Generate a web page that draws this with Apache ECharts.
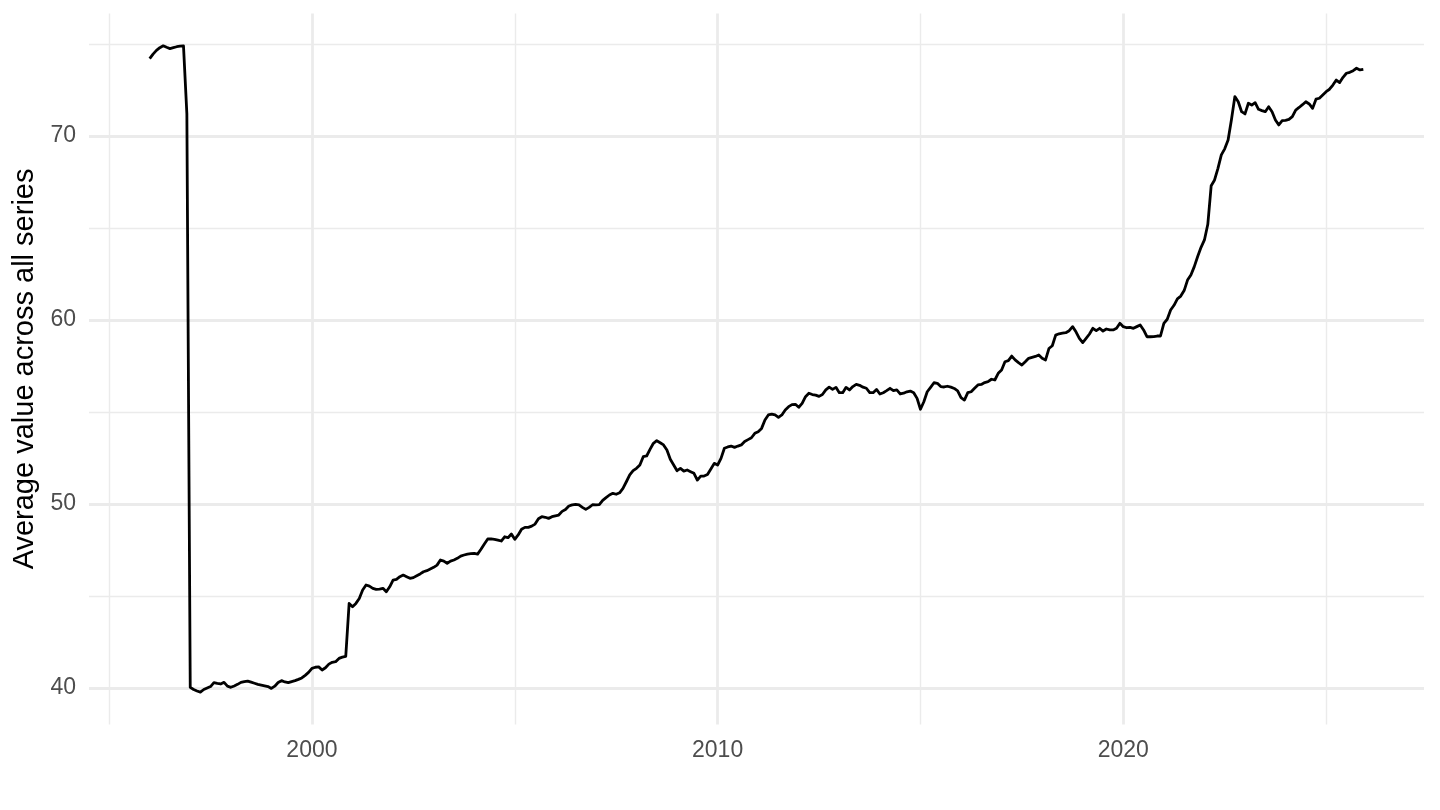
<!DOCTYPE html>
<html>
<head>
<meta charset="utf-8">
<title>Average value across all series</title>
<script src="https://cdn.jsdelivr.net/npm/echarts@6/dist/echarts.min.js"></script>
<style>
  html, body { margin: 0; padding: 0; background: #fff; }
  #chart { width: 1440px; height: 810px; }
</style>
</head>
<body>
<div id="chart"></div>
<script>
// monthly averages, Jan 1996 .. Dec 2025
var startYear = 1996;
var values = [
  74.2, 74.45, 74.65, 74.8, 74.9, 74.82, 74.75, 74.8, 74.85, 74.88, 74.9, 71.2,      // 1996
  40.04, 39.92, 39.84, 39.78, 39.92, 40.0, 40.08, 40.29, 40.25, 40.22, 40.31, 40.1,  // 1997
  40.04, 40.11, 40.2, 40.31, 40.35, 40.38, 40.32, 40.26, 40.2, 40.16, 40.12, 40.08,  // 1998
  39.98, 40.1, 40.3, 40.4, 40.33, 40.29, 40.35, 40.4, 40.47, 40.55, 40.69, 40.85,    // 1999
  41.07, 41.13, 41.15, 40.98, 41.1, 41.3, 41.4, 41.43, 41.61, 41.68, 41.72, 44.6,    // 2000
  44.42, 44.6, 44.87, 45.33, 45.6, 45.54, 45.42, 45.36, 45.38, 45.42, 45.23, 45.5,   // 2001
  45.87, 45.91, 46.05, 46.14, 46.05, 45.96, 46.0, 46.1, 46.2, 46.32, 46.38, 46.47,   // 2002
  46.56, 46.68, 46.96, 46.9, 46.78, 46.9, 46.96, 47.05, 47.17, 47.23, 47.28, 47.3,   // 2003
  47.32, 47.28, 47.54, 47.83, 48.1, 48.1, 48.08, 48.04, 47.99, 48.22, 48.17, 48.37,  // 2004
  48.08, 48.32, 48.63, 48.73, 48.73, 48.8, 48.91, 49.2, 49.31, 49.28, 49.22, 49.31,  // 2005
  49.36, 49.4, 49.6, 49.7, 49.89, 49.95, 49.98, 49.95, 49.82, 49.71, 49.82, 49.96,   // 2006
  49.95, 49.97, 50.2, 50.35, 50.49, 50.58, 50.53, 50.61, 50.85, 51.21, 51.58, 51.81, // 2007
  51.94, 52.12, 52.57, 52.61, 52.97, 53.3, 53.44, 53.33, 53.21, 52.93, 52.43, 52.12, // 2008
  51.81, 51.94, 51.79, 51.85, 51.76, 51.67, 51.3, 51.52, 51.52, 51.6, 51.9, 52.21,   // 2009
  52.12, 52.48, 53.03, 53.1, 53.15, 53.08, 53.15, 53.21, 53.4, 53.5, 53.6, 53.84,    // 2010
  53.93, 54.11, 54.57, 54.84, 54.89, 54.84, 54.71, 54.84, 55.11, 55.29, 55.4, 55.42, // 2011
  55.26, 55.47, 55.83, 56.02, 55.95, 55.92, 55.85, 55.95, 56.2, 56.35, 56.23, 56.34, // 2012
  56.05, 56.05, 56.34, 56.2, 56.38, 56.5, 56.45, 56.35, 56.29, 56.05, 56.05, 56.23,  // 2013
  55.98, 56.05, 56.16, 56.29, 56.16, 56.2, 55.98, 56.02, 56.1, 56.14, 56.05, 55.74,  // 2014
  55.15, 55.56, 56.1, 56.34, 56.59, 56.56, 56.38, 56.36, 56.4, 56.35, 56.28, 56.15,  // 2015
  55.78, 55.65, 56.05, 56.1, 56.29, 56.47, 56.5, 56.6, 56.65, 56.78, 56.74, 57.1,    // 2016
  57.28, 57.73, 57.79, 58.04, 57.83, 57.68, 57.55, 57.73, 57.92, 57.97, 58.02, 58.1, // 2017
  57.92, 57.83, 58.45, 58.6, 59.18, 59.25, 59.29, 59.31, 59.42, 59.64, 59.36, 59.0,  // 2018
  58.77, 59.0, 59.24, 59.55, 59.42, 59.55, 59.4, 59.51, 59.46, 59.46, 59.55, 59.82,  // 2019
  59.64, 59.58, 59.6, 59.55, 59.64, 59.73, 59.46, 59.09, 59.09, 59.1, 59.13, 59.13,  // 2020
  59.82, 60.04, 60.54, 60.8, 61.15, 61.3, 61.6, 62.17, 62.45, 62.9, 63.45, 63.95,    // 2021
  64.35, 65.2, 67.3, 67.61, 68.24, 68.97, 69.3, 69.78, 70.9, 72.14, 71.86, 71.32,    // 2022
  71.2, 71.78, 71.68, 71.81, 71.45, 71.38, 71.32, 71.59, 71.32, 70.87, 70.6, 70.83,  // 2023
  70.85, 70.9, 71.05, 71.41, 71.55, 71.7, 71.86, 71.74, 71.5, 72.0, 72.05, 72.23,    // 2024
  72.41, 72.54, 72.77, 73.04, 72.9, 73.19, 73.41, 73.46, 73.55, 73.68, 73.59, 73.62  // 2025
];
var xTicks = [2000, 2010, 2020];
var xMinorTicks = [1995, 2005, 2015, 2025];
var yTicks = [40, 50, 60, 70];
var yMinorTicks = [45, 55, 65, 75];

var points = values.map(function (v, i) {
  return [startYear + i / 12, v];
});

// ggplot style 5% expansion of the data range
function expand(lo, hi) {
  var pad = (hi - lo) * 0.05;
  return [lo - pad, hi + pad];
}
var xr = expand(points[0][0], points[points.length - 1][0]);
var yr = expand(Math.min.apply(null, values), Math.max.apply(null, values));

var grid = '#EBEBEB';
var font = 'Liberation Sans, Arial, Helvetica, sans-serif';

var chart = echarts.init(document.getElementById('chart'));
chart.setOption({
  animation: false,
  backgroundColor: '#ffffff',
  grid: { left: 89, right: 16, top: 13.5, bottom: 85.6 },
  xAxis: [
    {
      type: 'value', min: xr[0], max: xr[1],
      axisLine: { show: false },
      axisTick: { show: false, customValues: xTicks },
      axisLabel: {
        customValues: xTicks, color: '#4D4D4D', fontSize: 23,
        fontFamily: font, margin: 15,
        formatter: function (v) { return String(v); }
      },
      splitLine: { show: true, lineStyle: { color: grid, width: 2.8 } }
    },
    {
      type: 'value', min: xr[0], max: xr[1], position: 'bottom',
      axisLine: { show: false },
      axisTick: { show: false, customValues: xMinorTicks },
      axisLabel: { show: false, customValues: xMinorTicks },
      splitLine: { show: true, lineStyle: { color: grid, width: 1.4 } }
    }
  ],
  yAxis: [
    {
      type: 'value', min: yr[0], max: yr[1],
      name: 'Average value across all series',
      nameLocation: 'middle', nameGap: 50,
      nameTextStyle: { color: '#000', fontSize: 29, fontFamily: font },
      axisLine: { show: false },
      axisTick: { show: false, customValues: yTicks },
      axisLabel: {
        customValues: yTicks, color: '#4D4D4D', fontSize: 23,
        fontFamily: font, margin: 13
      },
      splitLine: { show: true, lineStyle: { color: grid, width: 2.8 } }
    },
    {
      type: 'value', min: yr[0], max: yr[1], position: 'left',
      axisLine: { show: false },
      axisTick: { show: false, customValues: yMinorTicks },
      axisLabel: { show: false, customValues: yMinorTicks },
      splitLine: { show: true, lineStyle: { color: grid, width: 1.4 } }
    }
  ],
  series: [
    {
      type: 'line',
      data: points,
      showSymbol: false,
      lineStyle: { color: '#000', width: 2.8, join: 'round' },
      itemStyle: { color: '#000' }
    }
  ]
});
</script>
</body>
</html>
